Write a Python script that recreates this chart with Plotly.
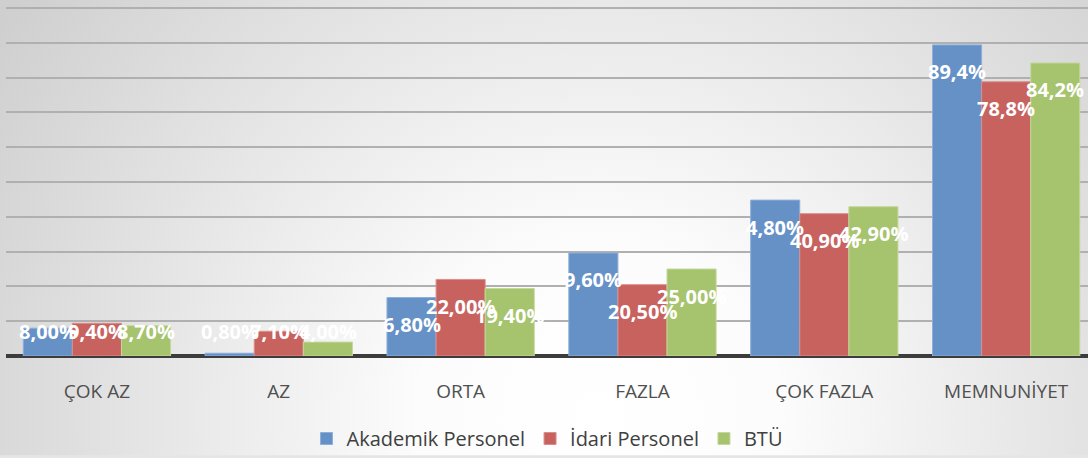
import base64
import plotly.graph_objects as go

categories = ["ÇOK AZ", "AZ", "ORTA", "FAZLA", "ÇOK FAZLA", "MEMNUNİYET"]
series_names = ["Akademik Personel", "İdari Personel", "BTÜ"]
akademik = [8.00, 0.80, 16.80, 29.60, 44.80, 89.4]
idari = [9.40, 7.10, 22.00, 20.50, 40.90, 78.8]
btu = [8.70, 4.00, 19.40, 25.00, 42.90, 84.2]
# data label texts as they appear in the picture
akademik_labels = ["8,00%", "0,80%", "6,80%", "9,60%", "4,80%", "89,4%"]
idari_labels = ["9,40%", "7,10%", "22,00%", "20,50%", "40,90%", "78,8%"]
btu_labels = ["8,70%", "4,00%", "19,40%", "25,00%", "42,90%", "84,2%"]

colors = ["#6591C7", "#C8625F", "#A6C36D"]
line_colors = ["#8DAFDA", "#DA8F8C", "#C4D99C"]

W, H = 1088, 458
ML, MR, MT, MB = 6, 0, 0, 100
PW, PH = W - ML - MR, H - MT - MB

svg = f'''<svg xmlns="http://www.w3.org/2000/svg" width="{W}" height="{H}" viewBox="0 0 {W} {H}" preserveAspectRatio="none">
<defs><radialGradient id="g" gradientUnits="userSpaceOnUse" cx="600" cy="420" r="720">
<stop offset="0" stop-color="#ffffff"/><stop offset="0.25" stop-color="#fcfcfc"/><stop offset="1" stop-color="#cfcfcf"/>
</radialGradient></defs><rect x="0" y="0" width="{W}" height="{H}" fill="url(#g)"/></svg>'''
bg_uri = "data:image/svg+xml;base64," + base64.b64encode(svg.encode()).decode()

fig = go.Figure()
all_vals = [akademik, idari, btu]
all_labels = [akademik_labels, idari_labels, btu_labels]
for name, vals, c, lc in zip(series_names, all_vals, colors, line_colors):
    fig.add_trace(go.Bar(
        x=categories, y=vals, name=name,
        marker=dict(color=c, line=dict(color=lc, width=1)),
        hoverinfo="skip",
    ))

bar_px = 49
shifts = [-bar_px, 0, bar_px]
for vals, labels, xs in zip(all_vals, all_labels, shifts):
    for cat, v, t in zip(categories, vals, labels):
        fig.add_annotation(
            x=cat, y=max(v, 14.8), xref="x", yref="y",
            text=t, showarrow=False, xshift=xs, yshift=-27,
            font=dict(family="Open Sans, sans-serif", size=20, color="white", weight="bold"),
            xanchor="center", yanchor="middle",
        )

fig.update_layout(
    width=W, height=H,
    margin=dict(l=ML, r=MR, t=MT, b=MB, pad=0),
    paper_bgcolor="#e6e6e6",
    plot_bgcolor="rgba(0,0,0,0)",
    barmode="group", bargap=0.19, bargroupgap=0.0,
    showlegend=True,
    legend=dict(orientation="h", x=0.5, y=(PH - 441) / PH, xanchor="center", yanchor="middle",
                font=dict(family="Open Sans, sans-serif", size=20, color="#404040"),
                bgcolor="rgba(0,0,0,0)", itemwidth=30),
    images=[dict(source=bg_uri, xref="paper", yref="paper",
                 x=-ML / PW, y=1 + MT / PH, sizex=W / PW, sizey=H / PH,
                 xanchor="left", yanchor="top", sizing="stretch", layer="below")],
)
fig.update_xaxes(
    type="category", range=[-0.5, 5.45],
    showgrid=False, showline=False, ticks="",
    tickfont=dict(family="Open Sans, sans-serif", size=19, color="#505050"),
    ticklabelstandoff=22,
)
fig.update_yaxes(
    range=[0, 102.3], showticklabels=False, ticks="",
    showgrid=True, gridcolor="#b0b0b0", gridwidth=2, dtick=10,
    zeroline=True, zerolinecolor="#3c3c3c", zerolinewidth=4,
)

fig.write_html("out.html", config={"displayModeBar": False, "staticPlot": True},
               post_script="document.body.style.margin='0';document.body.style.overflow='hidden';")
